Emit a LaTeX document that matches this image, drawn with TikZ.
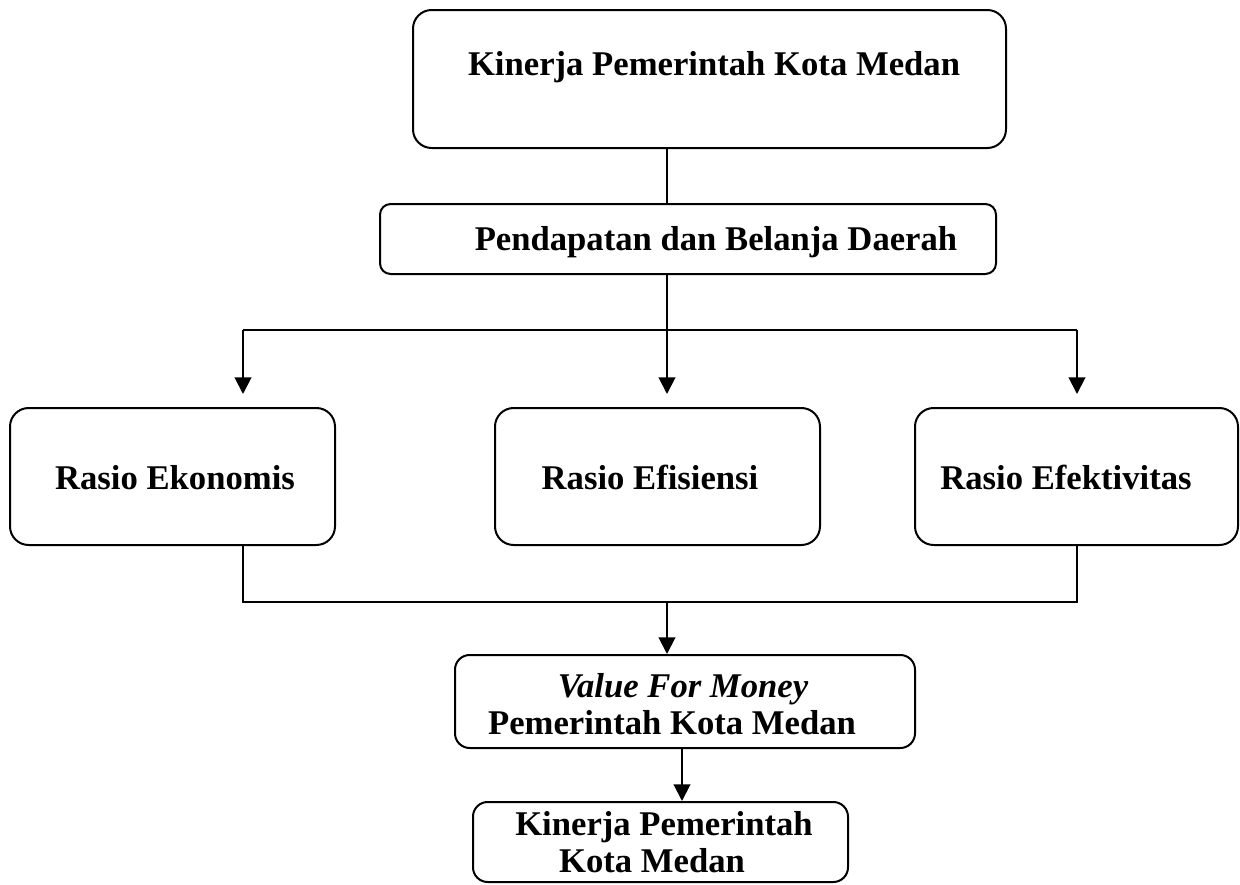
\documentclass[tikz,border=0pt]{standalone}
\usepackage{fontspec}
\setmainfont{Liberation Serif}
\usetikzlibrary{arrows.meta}
\begin{document}
\begin{tikzpicture}[x=0.75pt,y=-0.75pt,
 box/.style={draw,line width=1.5pt,rounded corners=#1,inner sep=0pt},
 box/.default=14pt,
 lbl/.style={font=\fontsize{26}{30}\selectfont\bfseries,inner sep=0pt,anchor=base},
 ln/.style={line width=1.5pt},
 arr/.style={ln,-{Triangle[width=12.5pt,length=12.5pt]}}]
\useasboundingbox (0,0) rectangle (1240,885);
% boxes
\node[box, minimum width=444.75pt, minimum height=103.5pt] (top) at (709.5,79) {};
\node[box=8pt, minimum width=462pt, minimum height=52.5pt] (b2) at (688,239) {};
\node[box, minimum width=243.75pt, minimum height=102.75pt] (r1) at (172.5,476.5) {};
\node[box, minimum width=243.75pt, minimum height=102.75pt] (r2) at (657.5,476.5) {};
\node[box, minimum width=242.25pt, minimum height=102.75pt] (r3) at (1076.5,476.5) {};
\node[box=11pt, minimum width=345pt, minimum height=69.75pt] (vfm) at (685,701.5) {};
\node[box=11pt, minimum width=281.25pt, minimum height=60pt] (kin) at (660.5,842) {};
% texts
\node[lbl] (t1) at (714,75) {Kinerja Pemerintah Kota Medan};
\node[lbl] (t2) at (716,250) {Pendapatan dan Belanja Daerah};
\node[lbl] (tr1) at (175,489) {Rasio Ekonomis};
\node[lbl] (tr2) at (650,489) {Rasio Efisiensi};
\node[lbl] (tr3) at (1066,489) {Rasio Efektivitas};
\node[lbl] (tv1) at (683,697) {\itshape Value For Money};
\node[lbl] (tv2) at (672,734) {Pemerintah Kota Medan};
\node[lbl] (tk1) at (664,835) {Kinerja Pemerintah};
\node[lbl] (tk2) at (652,872) {Kota Medan};
% junctions
\coordinate (j1) at (667,330);
\coordinate (a1) at (243,330);
\coordinate (a3) at (1077,330);
\coordinate (b1) at (243,602);
\coordinate (b3) at (1077,602);
\coordinate (bm) at (667,602);
\coordinate (v2) at (682,748);
% connectors
\draw[ln] (top.south -| j1) -- (b2.north -| j1);
\draw[ln] (b2.south -| j1) -- (j1);
\draw[ln] (a1) -- (a3);
\draw[arr, shorten >=9.75pt] (a1) -- (r1.north -| a1);
\draw[arr, shorten >=9.75pt] (j1) -- (r2.north -| j1);
\draw[arr, shorten >=9.75pt] (a3) -- (r3.north -| a3);
\draw[ln] (r1.south -| b1) -- (b1) -- (b3) -- (r3.south -| b3);
\draw[arr] (bm) -- (vfm.north -| bm);
\draw[arr] (v2) -- (kin.north -| v2);
\end{tikzpicture}
\end{document}
